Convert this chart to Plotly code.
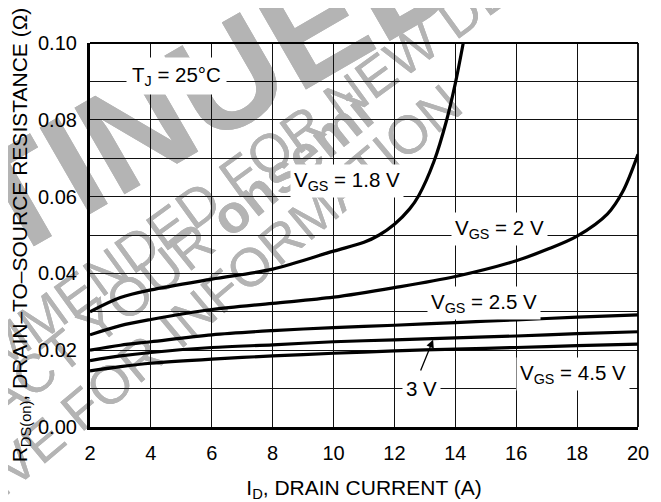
import plotly.graph_objects as go

# ---------------- data ----------------
id_18 = [2, 3, 4, 6, 8, 10, 11, 11.5, 12, 12.5, 12.8, 13.3, 13.7, 14.0, 14.26]
r_18 = [0.0300, 0.0337, 0.0357, 0.0385, 0.0411, 0.0458, 0.0481, 0.0500, 0.0528, 0.0568,
        0.0603, 0.0692, 0.0795, 0.0895, 0.1000]

id_20 = [2, 3, 4, 6, 8, 10, 12, 14, 16, 17, 18, 19, 19.5, 20]
r_20 = [0.0240, 0.0264, 0.0280, 0.0306, 0.0322, 0.0338, 0.0363, 0.0392, 0.0433, 0.0462,
        0.0497, 0.0555, 0.0613, 0.0710]

id_lo = [2, 3, 4, 6, 8, 10, 12, 14, 16, 18, 20]
r_25 = [0.0200, 0.0213, 0.0222, 0.0240, 0.0251, 0.0259, 0.0265, 0.0272, 0.0279, 0.0286, 0.0292]
r_30 = [0.0173, 0.0185, 0.0194, 0.0207, 0.0214, 0.0222, 0.0227, 0.0232, 0.0237, 0.0243, 0.0248]
r_45 = [0.0146, 0.0157, 0.0166, 0.0177, 0.0185, 0.0192, 0.0198, 0.0203, 0.0207, 0.0212, 0.0216]

x_ticks = [2, 4, 6, 8, 10, 12, 14, 16, 18, 20]
y_ticks = [0.00, 0.02, 0.04, 0.06, 0.08, 0.10]
y_tick_text = ["0.00", "0.02", "0.04", "0.06", "0.08", "0.10"]

curve_labels = ["V<sub>GS</sub> = 1.8 V", "V<sub>GS</sub> = 2 V", "V<sub>GS</sub> = 2.5 V",
                "3 V", "V<sub>GS</sub> = 4.5 V"]
label_x = [10.44, 15.45, 14.94, 12.9, 17.87]
label_y = [0.0641, 0.0516, 0.0322, 0.0101, 0.0139]

temp_label = "T<sub>J</sub> = 25°C"

watermark_text = ["DISCONTINUED",
                  "NOT RECOMMENDED FOR NEW DESIGN",
                  "CONTACT YOUR <b>onsemi</b>",
                  "REPRESENTATIVE FOR INFORMATION"]

# ---------------- figure ----------------
FONT = "Liberation Sans, Arial, Helvetica, sans-serif"
# the page adds an 8 px body margin, so the figure is drawn 8 px smaller
OFF = 8
WIN_W, WIN_H = 661, 502
PLOT_L, PLOT_R, PLOT_T, PLOT_B = 90, 638, 43, 427      # plot box in window pixels
W, H = WIN_W - OFF, WIN_H - OFF
L, T = PLOT_L - OFF, PLOT_T - OFF
R, B = WIN_W - PLOT_R, WIN_H - PLOT_B
PW, PH = PLOT_R - PLOT_L, PLOT_B - PLOT_T


def px2paper(px, py):
    return (px - PLOT_L) / PW, (PLOT_B - py) / PH


fig = go.Figure()
for xs, ys in [(id_18, r_18), (id_20, r_20), (id_lo, r_25), (id_lo, r_30), (id_lo, r_45)]:
    fig.add_trace(go.Scatter(x=xs, y=ys, mode="lines",
                             line=dict(color="black", width=3.2, shape="spline", smoothing=0.9),
                             hoverinfo="skip", showlegend=False))

shapes = []
# watermark (drawn above grid, below curves)
wm_specs = [(-38, 214, 145, "bold", -30, watermark_text[0]),
            (182, 210, 54, "normal", -36, watermark_text[1]),
            (117, 300, 54, "normal", -39, watermark_text[2]),
            (69, 412, 54, "normal", -40, watermark_text[3])]
for cx, cy, size, weight, ang, txt in wm_specs:
    px_, py_ = px2paper(cx, cy)
    for layer in ("below", "between"):
        shapes.append(dict(type="rect", xref="paper", yref="paper", x0=px_, x1=px_, y0=py_, y1=py_,
                           line=dict(width=0), fillcolor="rgba(0,0,0,0)", layer=layer,
                           label=dict(text=txt, textangle=ang, textposition="middle center",
                                      font=dict(family=FONT, size=size, color="#b4b4b4", weight=weight))))

# top & right frame lines
shapes.append(dict(type="line", xref="paper", yref="paper", x0=0, x1=1, y0=1, y1=1,
                   line=dict(color="black", width=1.8), layer="above"))
shapes.append(dict(type="line", xref="paper", yref="paper", x0=1, x1=1, y0=0, y1=1,
                   line=dict(color="black", width=1.8), layer="above"))

annotations = []
for t, x, y in zip(curve_labels, label_x, label_y):
    annotations.append(dict(x=x, y=y, xref="x", yref="y", text=t, showarrow=False,
                            bgcolor="white", borderpad=3,
                            font=dict(family=FONT, size=20.5, color="black")))
annotations.append(dict(x=4.85, y=0.0915, xref="x", yref="y", text=temp_label, showarrow=False,
                        bgcolor="white", borderpad=5, font=dict(family=FONT, size=20.5, color="black")))
# arrow for 3 V
annotations.append(dict(x=13.27, y=0.0227, ax=12.84, ay=0.0143, xref="x", yref="y",
                        axref="x", ayref="y", text="", showarrow=True, arrowhead=2,
                        arrowsize=1.2, arrowwidth=1.3, arrowcolor="black"))

fig.update_layout(
    width=W, height=H,
    margin=dict(l=L, r=R, t=T, b=B, autoexpand=False),
    paper_bgcolor="white", plot_bgcolor="white",
    font=dict(family=FONT, size=20, color="black"),
    shapes=shapes, annotations=annotations,
    xaxis=dict(range=[2, 20], tickvals=x_ticks, showgrid=True, gridcolor="#111111", gridwidth=1.3,
               zeroline=False, showline=True, linecolor="black", linewidth=3.2, ticks="",
               ticklabelstandoff=6, tickfont=dict(size=20),
               title=dict(text="I<sub>D</sub>, DRAIN CURRENT (A)", standoff=21,
                          font=dict(size=21))),
    yaxis=dict(range=[0, 0.1], tickvals=y_ticks, ticktext=y_tick_text, showgrid=True,
               gridcolor="#111111", gridwidth=1.3,
               minor=dict(tickvals=[0.01, 0.03, 0.05, 0.07, 0.09], showgrid=True,
                          gridcolor="#111111", gridwidth=1.3),
               zeroline=False, showline=True, linecolor="black", linewidth=3.2, ticks="",
               ticklabelstandoff=6, tickfont=dict(size=20),
               title=dict(text="R<sub>DS(on)</sub>, DRAIN–TO–SOURCE RESISTANCE (Ω)", standoff=8,
                          font=dict(size=21))),
)

fig.write_html("out.html")
